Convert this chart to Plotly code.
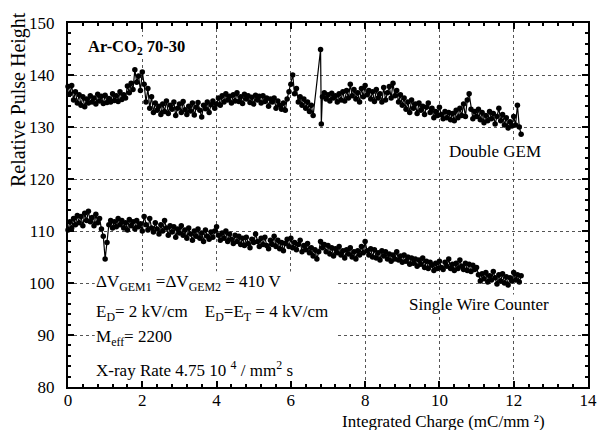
import plotly.graph_objects as go

# ---- data: (integrated charge, relative pulse height) ----
gem_points = [
    (0.00, 137.8), (0.05, 136.4), (0.10, 138.0), (0.15, 135.2), (0.20, 136.8), (0.25, 134.6),
    (0.30, 136.2), (0.35, 134.2), (0.40, 135.8), (0.45, 133.9), (0.50, 135.4), (0.55, 134.6),
    (0.60, 136.0), (0.65, 134.8), (0.70, 135.6), (0.75, 134.4), (0.80, 136.3), (0.85, 135.0),
    (0.90, 135.9), (0.95, 134.5), (1.00, 136.1), (1.05, 134.7), (1.10, 135.5), (1.15, 134.8),
    (1.20, 136.4), (1.25, 135.1), (1.30, 136.0), (1.35, 134.9), (1.40, 136.8), (1.45, 135.3),
    (1.50, 136.2), (1.55, 135.6), (1.60, 137.9), (1.65, 136.6), (1.70, 138.4), (1.75, 137.2),
    (1.80, 141.0), (1.85, 138.6), (1.90, 139.8), (1.95, 137.0), (2.00, 140.6), (2.05, 138.2),
    (2.10, 134.8), (2.15, 137.4), (2.20, 133.6), (2.25, 135.8), (2.30, 132.8), (2.35, 134.6),
    (2.40, 133.2), (2.45, 134.0), (2.50, 132.4), (2.55, 134.4), (2.60, 133.0), (2.65, 135.0),
    (2.70, 132.6), (2.75, 134.2), (2.80, 133.4), (2.85, 134.8), (2.90, 132.2), (2.95, 133.6),
    (3.00, 134.4), (3.05, 132.8), (3.10, 134.9), (3.15, 133.3), (3.20, 132.4), (3.25, 134.0),
    (3.30, 133.1), (3.35, 134.6), (3.40, 132.3), (3.45, 133.8), (3.50, 134.7), (3.55, 133.2),
    (3.60, 131.9), (3.65, 134.2), (3.70, 133.5), (3.75, 134.8), (3.80, 132.8), (3.85, 134.3),
    (3.90, 135.0), (3.95, 133.6), (4.00, 134.4), (4.05, 135.6), (4.10, 134.2), (4.15, 136.0),
    (4.20, 134.8), (4.25, 136.4), (4.30, 135.2), (4.35, 135.9), (4.40, 134.6), (4.45, 136.2),
    (4.50, 135.0), (4.55, 136.6), (4.60, 134.9), (4.65, 135.8), (4.70, 134.5), (4.75, 136.3),
    (4.80, 135.4), (4.85, 136.0), (4.90, 134.7), (4.95, 135.7), (5.00, 134.4), (5.05, 136.1),
    (5.10, 135.2), (5.15, 135.9), (5.20, 134.6), (5.25, 136.0), (5.30, 134.9), (5.35, 135.6),
    (5.40, 134.0), (5.45, 135.4), (5.50, 134.8), (5.55, 135.6), (5.60, 133.6), (5.65, 135.0),
    (5.70, 134.2), (5.75, 133.4), (5.80, 134.6), (5.85, 133.2), (5.90, 135.4), (5.95, 136.8),
    (6.00, 138.2), (6.05, 140.0), (6.10, 136.4), (6.15, 137.4), (6.20, 134.8), (6.25, 135.8),
    (6.30, 134.2), (6.35, 135.4), (6.40, 133.6), (6.45, 134.8), (6.50, 133.0), (6.55, 134.2),
    (6.60, 132.2), (6.80, 144.9), (6.82, 130.6), (6.85, 135.8), (6.90, 136.6), (6.95, 135.4),
    (7.00, 136.2), (7.05, 135.0), (7.10, 136.5), (7.15, 135.6), (7.20, 136.0), (7.25, 134.8),
    (7.30, 136.4), (7.35, 135.2), (7.40, 136.8), (7.45, 135.0), (7.50, 137.0), (7.55, 135.6),
    (7.60, 138.2), (7.65, 136.0), (7.70, 137.2), (7.75, 135.4), (7.80, 136.6), (7.85, 134.8),
    (7.90, 137.4), (7.95, 135.8), (8.00, 138.0), (8.05, 136.2), (8.10, 137.0), (8.15, 135.4),
    (8.20, 136.8), (8.25, 134.9), (8.30, 137.2), (8.35, 135.6), (8.40, 136.4), (8.45, 134.8),
    (8.50, 137.6), (8.55, 135.2), (8.60, 136.6), (8.65, 137.8), (8.70, 135.6), (8.75, 138.4),
    (8.80, 136.0), (8.85, 137.0), (8.90, 134.8), (8.95, 136.2), (9.00, 134.2), (9.05, 135.6),
    (9.10, 133.4), (9.15, 134.8), (9.20, 132.8), (9.25, 135.2), (9.30, 133.6), (9.35, 134.4),
    (9.40, 132.6), (9.45, 134.6), (9.50, 133.2), (9.55, 134.0), (9.60, 132.4), (9.65, 133.8),
    (9.70, 134.6), (9.75, 132.8), (9.80, 133.6), (9.85, 131.8), (9.90, 133.0), (9.95, 132.2),
    (10.00, 133.8), (10.05, 132.4), (10.10, 131.6), (10.15, 133.0), (10.20, 131.8), (10.25, 132.8),
    (10.30, 131.4), (10.35, 132.6), (10.40, 131.2), (10.45, 133.2), (10.50, 131.8), (10.55, 133.6),
    (10.60, 132.2), (10.65, 134.4), (10.70, 132.0), (10.75, 135.2), (10.80, 136.4), (10.85, 133.4),
    (10.90, 131.6), (10.95, 133.0), (11.00, 132.0), (11.05, 133.4), (11.10, 131.4), (11.15, 132.8),
    (11.20, 130.8), (11.25, 132.2), (11.30, 131.2), (11.35, 133.0), (11.40, 131.6), (11.45, 132.6),
    (11.50, 130.6), (11.55, 132.0), (11.60, 133.6), (11.65, 131.2), (11.70, 132.4), (11.75, 130.4),
    (11.80, 131.8), (11.85, 129.8), (11.90, 131.0), (11.95, 130.2), (12.00, 132.0), (12.05, 130.4),
    (12.10, 134.2), (12.15, 130.0), (12.20, 128.6),
]

swc_points = [
    (0.00, 110.2), (0.05, 111.8), (0.10, 110.6), (0.15, 112.4), (0.20, 111.2), (0.25, 113.0),
    (0.30, 111.6), (0.35, 112.8), (0.40, 111.0), (0.45, 113.4), (0.50, 112.0), (0.55, 113.8),
    (0.60, 111.8), (0.65, 112.6), (0.70, 111.0), (0.75, 113.2), (0.80, 111.6), (0.85, 112.4),
    (0.90, 110.4), (0.95, 109.0), (1.00, 104.6), (1.05, 107.8), (1.10, 111.2), (1.15, 112.0),
    (1.20, 110.6), (1.25, 111.8), (1.30, 110.8), (1.35, 112.4), (1.40, 111.2), (1.45, 112.0),
    (1.50, 110.6), (1.55, 111.6), (1.60, 110.2), (1.65, 112.2), (1.70, 111.0), (1.75, 111.8),
    (1.80, 110.4), (1.85, 112.0), (1.90, 110.8), (1.95, 111.4), (2.00, 110.0), (2.05, 112.8),
    (2.10, 111.2), (2.15, 110.2), (2.20, 112.4), (2.25, 110.6), (2.30, 109.8), (2.35, 111.6),
    (2.40, 110.4), (2.45, 109.4), (2.50, 111.2), (2.55, 110.0), (2.60, 112.0), (2.65, 110.6),
    (2.70, 109.2), (2.75, 111.0), (2.80, 109.8), (2.85, 110.8), (2.90, 108.8), (2.95, 110.4),
    (3.00, 109.6), (3.05, 111.0), (3.10, 109.2), (3.15, 110.2), (3.20, 108.6), (3.25, 110.6),
    (3.30, 109.4), (3.35, 108.2), (3.40, 110.0), (3.45, 109.0), (3.50, 110.4), (3.55, 108.6),
    (3.60, 109.6), (3.65, 108.0), (3.70, 110.2), (3.75, 109.0), (3.80, 108.4), (3.85, 109.8),
    (3.90, 108.8), (3.95, 110.0), (4.00, 110.8), (4.05, 109.2), (4.10, 108.2), (4.15, 109.6),
    (4.20, 108.6), (4.25, 110.0), (4.30, 108.0), (4.35, 109.4), (4.40, 108.4), (4.45, 107.6),
    (4.50, 109.2), (4.55, 108.0), (4.60, 109.0), (4.65, 107.4), (4.70, 108.6), (4.75, 107.2),
    (4.80, 108.8), (4.85, 107.6), (4.90, 106.8), (4.95, 108.4), (5.00, 107.8), (5.05, 109.4),
    (5.10, 108.0), (5.15, 107.0), (5.20, 108.6), (5.25, 107.4), (5.30, 108.8), (5.35, 107.2),
    (5.40, 106.6), (5.45, 108.2), (5.50, 107.4), (5.55, 109.0), (5.60, 107.0), (5.65, 108.2),
    (5.70, 106.6), (5.75, 107.8), (5.80, 106.2), (5.85, 107.6), (5.90, 108.4), (5.95, 107.0),
    (6.00, 108.6), (6.05, 106.8), (6.10, 107.8), (6.15, 106.4), (6.20, 107.4), (6.25, 108.2),
    (6.30, 106.0), (6.35, 107.2), (6.40, 106.4), (6.45, 107.6), (6.50, 105.8), (6.55, 106.8),
    (6.60, 105.2), (6.65, 106.4), (6.70, 104.6), (6.75, 106.0), (6.80, 108.0), (6.85, 106.8),
    (6.90, 107.4), (6.95, 106.0), (7.00, 107.2), (7.05, 105.6), (7.10, 106.8), (7.15, 105.2),
    (7.20, 106.6), (7.25, 105.8), (7.30, 107.0), (7.35, 105.4), (7.40, 106.2), (7.45, 104.8),
    (7.50, 106.4), (7.55, 105.6), (7.60, 106.8), (7.65, 105.0), (7.70, 106.0), (7.75, 104.6),
    (7.80, 106.2), (7.85, 105.4), (7.90, 107.0), (7.95, 105.8), (8.00, 108.0), (8.05, 106.2),
    (8.10, 105.4), (8.15, 106.6), (8.20, 105.0), (8.25, 106.4), (8.30, 104.8), (8.35, 105.8),
    (8.40, 104.4), (8.45, 106.2), (8.50, 105.2), (8.55, 106.0), (8.60, 104.6), (8.65, 105.6),
    (8.70, 104.2), (8.75, 105.4), (8.80, 104.6), (8.85, 106.0), (8.90, 104.4), (8.95, 105.2),
    (9.00, 104.0), (9.05, 105.4), (9.10, 104.2), (9.15, 105.0), (9.20, 103.6), (9.25, 104.8),
    (9.30, 103.8), (9.35, 104.6), (9.40, 103.2), (9.45, 104.4), (9.50, 103.6), (9.55, 104.8),
    (9.60, 103.0), (9.65, 104.2), (9.70, 102.8), (9.75, 104.0), (9.80, 103.4), (9.85, 102.4),
    (9.90, 103.8), (9.95, 102.8), (10.00, 104.2), (10.05, 103.0), (10.10, 102.6), (10.15, 104.0),
    (10.20, 103.2), (10.25, 104.6), (10.30, 102.8), (10.35, 103.6), (10.40, 102.4), (10.45, 103.8),
    (10.50, 102.8), (10.55, 104.4), (10.60, 103.2), (10.65, 102.6), (10.70, 103.8), (10.75, 102.4),
    (10.80, 103.6), (10.85, 102.2), (10.90, 103.4), (10.95, 102.6), (11.00, 103.0), (11.05, 101.6),
    (11.10, 100.4), (11.15, 101.8), (11.20, 100.8), (11.25, 102.0), (11.30, 100.2), (11.35, 101.4),
    (11.40, 100.6), (11.45, 102.2), (11.50, 101.0), (11.55, 99.8), (11.60, 101.6), (11.65, 100.4),
    (11.70, 101.8), (11.75, 100.0), (11.80, 101.2), (11.85, 99.6), (11.90, 101.0), (11.95, 100.4),
    (12.00, 102.0), (12.05, 100.6), (12.10, 101.6), (12.15, 100.2), (12.20, 101.4),
]

gem_x = [p[0] for p in gem_points]
gem_y = [p[1] for p in gem_points]
swc_x = [p[0] for p in swc_points]
swc_y = [p[1] for p in swc_points]

x_ticks = [0, 2, 4, 6, 8, 10, 12, 14]
y_ticks = [80, 90, 100, 110, 120, 130, 140, 150]

FONT = "Liberation Serif"

fig = go.Figure()
for xs, ys, name in [(gem_x, gem_y, "Double GEM"), (swc_x, swc_y, "Single Wire Counter")]:
    fig.add_trace(go.Scatter(
        x=xs, y=ys, name=name, mode="lines+markers",
        line=dict(color="black", width=1.2),
        marker=dict(color="black", size=5.5),
        showlegend=False, cliponaxis=False,
    ))

# white panel behind the parameter text block (hides grid there)
fig.add_shape(type="rect", xref="x", yref="y", x0=0.72, x1=7.19, y0=80, y1=102.2,
              fillcolor="white", line=dict(width=0), layer="between")

notes = [
    (0.5, 145.4, "<b>Ar-CO<sub>2</sub> 70-30</b>", 16.5),
    (10.22, 125.2, "Double GEM", 17),
    (9.15, 95.9, "Single Wire Counter", 17),
    (0.74, 100.0, "ΔV<sub>GEM1</sub> =ΔV<sub>GEM2</sub> = 410 V", 17),
    (0.74, 94.2, "E<sub>D</sub>= 2 kV/cm    E<sub>D</sub>=E<sub>T</sub> = 4 kV/cm", 17),
    (0.74, 89.4, "M<sub>eff</sub>= 2200", 17),
    (0.74, 83.4, "X-ray Rate 4.75 10 <sup>4</sup> / mm<sup>2</sup> s", 17),
]
for x, y, t, s in notes:
    fig.add_annotation(x=x, y=y, xref="x", yref="y", text=t, showarrow=False,
                       xanchor="left", yanchor="middle",
                       font=dict(family=FONT, size=s, color="black"),
                       bgcolor="white", borderpad=0)

# axis titles (placed as in the reference, off-centre)
fig.add_annotation(x=(443 - 68) / 520, y=0, xref="paper", yref="paper",
                   yshift=-34, text="Integrated Charge (mC/mm ²)",
                   showarrow=False, xanchor="center", yanchor="middle",
                   font=dict(family=FONT, size=17, color="black"))
fig.add_annotation(x=0, y=(387 - 100) / 364, xref="paper", yref="paper",
                   xshift=-50, text="Relative Pulse Height", textangle=-90,
                   showarrow=False, xanchor="center", yanchor="middle",
                   font=dict(family=FONT, size=20, color="black"))

axis_common = dict(
    showline=True, linecolor="black", linewidth=2, mirror="ticks",
    ticks="inside", ticklen=6, tickwidth=1.5, tickcolor="black",
    showgrid=True, gridcolor="#555555", griddash="dot", gridwidth=1,
    zeroline=False, automargin=False, ticklabeloverflow="allow",
    tickfont=dict(family=FONT, size=17, color="black"),
)
fig.update_xaxes(range=[0, 14], tickvals=x_ticks, ticktext=[str(v) for v in x_ticks],
                 ticklabelstandoff=-3,
                 minor=dict(dtick=0.4, ticks="inside", ticklen=3, tickcolor="black", showgrid=False),
                 **axis_common)
fig.update_yaxes(range=[80, 150], tickvals=y_ticks, ticktext=[str(v) for v in y_ticks],
                 ticklabelstandoff=8,
                 minor=dict(dtick=2, ticks="inside", ticklen=3, tickcolor="black", showgrid=False),
                 **axis_common)

fig.update_layout(
    width=597, height=430,
    margin=dict(l=68, r=9, t=23, b=43),
    paper_bgcolor="white", plot_bgcolor="white",
    font=dict(family=FONT, color="black"),
)
fig.write_html("out.html", config={"displayModeBar": False},
               post_script="document.body.style.margin='0';")
